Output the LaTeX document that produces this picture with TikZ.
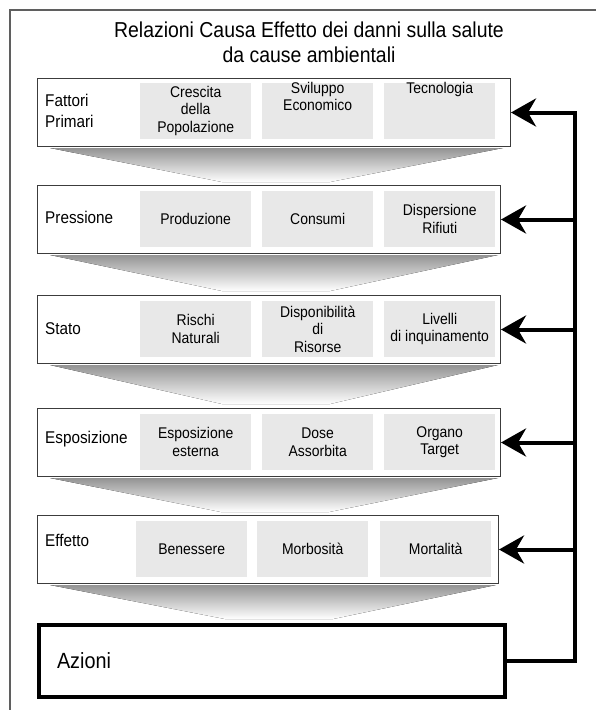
\documentclass[tikz,border=0pt]{standalone}
\usepackage{fontspec}
\setmainfont{Liberation Sans}[FakeStretch=0.9]
\usetikzlibrary{calc}
\usetikzlibrary{arrows.meta}
\tikzset{>={Stealth[length=25pt,width=28pt,inset=8pt]}}
\definecolor{grigiocella}{RGB}{232,232,232}
\definecolor{grigiocornice}{RGB}{95,95,95}
\definecolor{grigiobordo}{RGB}{60,60,60}

\tikzset{
  riga/.style={draw=grigiobordo, line width=1pt, fill=white, minimum height=68pt,
    anchor=north west, inner sep=0pt},
  cella/.style={fill=grigiocella, minimum width=111pt, minimum height=56pt,
    anchor=north west, inner sep=0pt, align=center, font=\fontsize{15.5}{17.5}\selectfont},
  testocella/.style={anchor=north, inner sep=2pt, align=center, font=\fontsize{15.5}{17.5}\selectfont},
  etichetta/.style={anchor=west, inner sep=0pt, align=left, font=\fontsize{17}{21}\selectfont},
  imbuto/.style={top color=black!42, bottom color=white, draw=none},
  ritorno/.style={line width=4pt, line join=miter},
}

\begin{document}
\begin{tikzpicture}[x=1pt,y=-1pt]
  \useasboundingbox (0,0) rectangle (596,710);

  % 外框与标题
  \draw[grigiocornice, line width=1.5pt] (10,710) -- (10,10) -- (596,10);
  \node[align=center, font=\fontsize{21.6}{25}\selectfont] (titolo) at (309,42)
    {Relazioni Causa Effetto dei danni sulla salute\\da cause ambientali};

  % 行框
  \node[riga, minimum width=473pt] (fattori) at (37,78) {};
  \node[riga, minimum width=463pt] (pressione) at (37,185) {};
  \node[riga, minimum width=463pt] (stato) at (37,295) {};
  \node[riga, minimum width=463pt] (esposizione) at (37,408) {};
  \node[riga, minimum width=461pt] (effetto) at (37,515) {};
  \node[draw, line width=4pt, minimum width=466pt, minimum height=72pt, anchor=north west,
    inner xsep=18pt, text width=430pt, align=left, font=\fontsize{22}{26}\selectfont]
    (azioni) at (37,623) {Azioni};

  % 漏斗
  \fill[imbuto] ($(fattori.south west)+(13,1)$) -- ($(fattori.south east)+(-8,1)$)
    -- ($(pressione.north)+(61,-3)$) -- ($(pressione.north)+(-47,-3)$) -- cycle;
  \fill[imbuto] ($(pressione.south west)+(13,1)$) -- ($(pressione.south east)+(-3,1)$)
    -- ($(stato.north)+(61,-4)$) -- ($(stato.north)+(-47,-4)$) -- cycle;
  \fill[imbuto] ($(stato.south west)+(13,1)$) -- ($(stato.south east)+(-3,1)$)
    -- ($(esposizione.north)+(61,-4)$) -- ($(esposizione.north)+(-47,-4)$) -- cycle;
  \fill[imbuto] ($(esposizione.south west)+(13,1)$) -- ($(esposizione.south east)+(-3,1)$)
    -- ($(effetto.north)+(61,-3)$) -- ($(effetto.north)+(-47,-3)$) -- cycle;
  \fill[imbuto] ($(effetto.south west)+(13,1)$) -- ($(effetto.south east)+(-3,1)$)
    -- ($(azioni.north)+(61,-4)$) -- ($(azioni.north)+(-47,-4)$) -- cycle;

  % 行标签
  \node[etichetta] (l-fattori) at (45,111) {Fattori\\Primari};
  \node[etichetta] (l-pressione) at (45,217) {Pressione};
  \node[etichetta] (l-stato) at (45,329) {Stato};
  \node[etichetta] (l-esposizione) at (45,439) {Esposizione};
  \node[etichetta] (l-effetto) at (45,540) {Effetto};

  % 单元格
  \node[cella] (f1) at (140,83) {};
  \node[cella] (f2) at (262,83) {};
  \node[cella] (f3) at (384,83) {};
  \node[testocella] at ([yshift=-1]f1.north) {Crescita\\della\\Popolazione};
  \node[testocella] at ([yshift=3]f2.north) {Sviluppo\\Economico};
  \node[testocella] at ([yshift=3]f3.north) {Tecnologia};

  \node[cella] (p1) at (140,191) {Produzione};
  \node[cella] (p2) at (262,191) {Consumi};
  \node[cella] (p3) at (384,191) {Dispersione\\Rifiuti};

  \node[cella] (s1) at (140,301) {Rischi\\Naturali};
  \node[cella] (s2) at (262,301) {Disponibilità\\di\\Risorse};
  \node[cella] (s3) at (384,301) {Livelli\\di inquinamento};

  \node[cella] (e1) at (140,414) {Esposizione\\esterna};
  \node[cella] (e2) at (262,414) {Dose\\Assorbita};
  \node[cella] (e3) at (384,414) {Organo\\Target};

  \node[cella] (m1) at (136,521) {Benessere};
  \node[cella] (m2) at (257,521) {Morbosità};
  \node[cella] (m3) at (380,521) {Mortalità};

  % 反馈箭头
  \coordinate (giro) at ($(azioni.east)+(68,0)$);
  \draw[ritorno,->] (azioni.east) -- (giro) |- (fattori.east);
  \draw[ritorno,->] (giro |- pressione.east) -- (pressione.east);
  \draw[ritorno,->] (giro |- stato.east) -- (stato.east);
  \draw[ritorno,->] (giro |- esposizione.east) -- (esposizione.east);
  \draw[ritorno,->] (giro |- effetto.east) -- (effetto.east);
\end{tikzpicture}
\end{document}
